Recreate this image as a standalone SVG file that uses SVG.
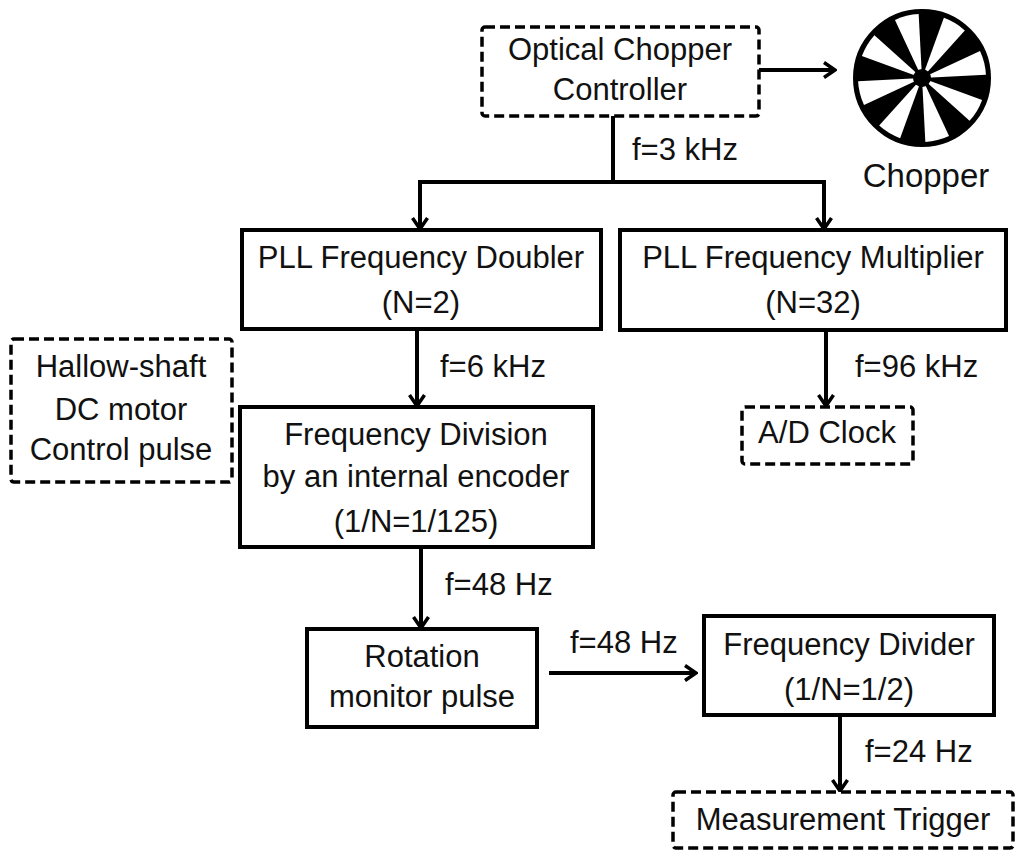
<svg xmlns="http://www.w3.org/2000/svg" width="1024" height="861" viewBox="0 0 1024 861">
<style>
.box{fill:#fff;stroke:#000;stroke-width:4}
.dash{fill:#fff;stroke:#000;stroke-width:3.5;stroke-dasharray:10 5}
.t{font-family:"Liberation Sans",Arial,sans-serif;font-size:31px;fill:#111;text-anchor:middle}
.l{font-family:"Liberation Sans",Arial,sans-serif;font-size:31px;fill:#111}
.c{fill:none;stroke:#000;stroke-width:4}
</style>
<defs>
<marker id="arr" viewBox="0 0 14 18" refX="12.5" refY="9" markerWidth="14" markerHeight="18" markerUnits="userSpaceOnUse" orient="auto">
<path d="M1.5,1.5 L12.5,9 L1.5,16.5" fill="none" stroke="#000" stroke-width="3.5"/>
</marker>
</defs>
<rect width="1024" height="861" fill="#fff"/>
<g id="connectors">
<path class="c" d="M759,70 H835" marker-end="url(#arr)"/>
<path class="c" d="M613,116 V182 H420 V229" marker-end="url(#arr)"/>
<path class="c" d="M613,182 H824 V229" marker-end="url(#arr)"/>
<path class="c" d="M417,329 V406" marker-end="url(#arr)"/>
<path class="c" d="M826,330 V406" marker-end="url(#arr)"/>
<path class="c" d="M421,547 V628" marker-end="url(#arr)"/>
<path class="c" d="M549,673 H696" marker-end="url(#arr)"/>
<path class="c" d="M840,715 V791" marker-end="url(#arr)"/>
<text class="l" x="632" y="160">f=3 kHz</text>
<text class="l" x="440" y="377">f=6 kHz</text>
<text class="l" x="855" y="377">f=96 kHz</text>
<text class="l" x="445" y="595">f=48 Hz</text>
<text class="l" x="570" y="653">f=48 Hz</text>
<text class="l" x="865" y="762">f=24 Hz</text>
</g>
<g id="controller">
<rect class="dash" x="482" y="27" width="277" height="89" rx="3"/>
<text class="t" x="620" y="60">Optical Chopper</text>
<text class="t" x="620" y="100">Controller</text>
</g>
<g id="chopper">
<circle cx="922" cy="78" r="67" fill="#000" stroke="#000" stroke-width="4"/>
<g fill="#fff" transform="translate(922,78)">
<path id="w" d="M0,0 L64,0 A64,64 0 0 1 59.34,23.98 Z" transform="rotate(-115)"/>
<use href="#w" transform="rotate(45)"/>
<use href="#w" transform="rotate(90)"/>
<use href="#w" transform="rotate(135)"/>
<use href="#w" transform="rotate(180)"/>
<use href="#w" transform="rotate(225)"/>
<use href="#w" transform="rotate(270)"/>
<use href="#w" transform="rotate(315)"/>
</g>
<circle cx="922" cy="78" r="9" fill="#000"/>
<text x="926" y="187" font-family="Liberation Sans,Arial,sans-serif" font-size="33" fill="#111" text-anchor="middle">Chopper</text>
</g>
<g id="doubler">
<rect class="box" x="242" y="230" width="359" height="99"/>
<text class="t" x="421" y="268">PLL Frequency Doubler</text>
<text class="t" x="421" y="313">(N=2)</text>
</g>
<g id="multiplier">
<rect class="box" x="620" y="230" width="386" height="100"/>
<text class="t" x="813" y="268">PLL Frequency Multiplier</text>
<text class="t" x="813" y="313">(N=32)</text>
</g>
<g id="adclock">
<rect class="dash" x="742" y="407" width="171" height="57" rx="3"/>
<text class="t" x="827" y="443">A/D Clock</text>
</g>
<g id="hallow">
<rect class="dash" x="11" y="339" width="221" height="143" rx="3"/>
<text class="t" x="121" y="377">Hallow-shaft</text>
<text class="t" x="121" y="420">DC motor</text>
<text class="t" x="121" y="460">Control pulse</text>
</g>
<g id="division">
<rect class="box" x="240" y="407" width="353" height="140"/>
<text class="t" x="416" y="445">Frequency Division</text>
<text class="t" x="416" y="487">by an internal encoder</text>
<text class="t" x="416" y="532">(1/N=1/125)</text>
</g>
<g id="rotation">
<rect class="box" x="307" y="629" width="230" height="98"/>
<text class="t" x="422" y="667">Rotation</text>
<text class="t" x="422" y="707">monitor pulse</text>
</g>
<g id="divider">
<rect class="box" x="704" y="616" width="290" height="99"/>
<text class="t" x="849" y="655">Frequency Divider</text>
<text class="t" x="849" y="700">(1/N=1/2)</text>
</g>
<g id="trigger">
<rect class="dash" x="673" y="792" width="340" height="56" rx="3"/>
<text class="t" x="843" y="830">Measurement Trigger</text>
</g>
</svg>
